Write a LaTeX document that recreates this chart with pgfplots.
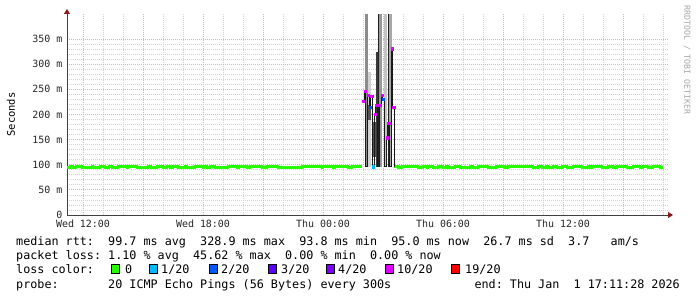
\documentclass[border=0pt]{standalone}
\usepackage{pgfplots}
\pgfplotsset{compat=1.18}
\usepackage{fontspec}
\usetikzlibrary{arrows.meta}
\newfontfamily\mono{DejaVu Sans Mono}
\definecolor{loss0}{HTML}{26FF00}
\definecolor{loss1}{HTML}{00B8FF}
\definecolor{loss2}{HTML}{0059FF}
\definecolor{loss3}{HTML}{5E00FF}
\definecolor{loss4}{HTML}{7E00FF}
\definecolor{loss10}{HTML}{DD00FF}
\definecolor{loss19}{HTML}{FF0000}
\definecolor{mgrid}{HTML}{F2A8A8}
\definecolor{sgrid}{HTML}{D2D2D2}
\definecolor{arrowred}{HTML}{8B1A1A}
\newcommand\tickfont{\mono\fontsize{10}{12}\selectfont}
\newcommand\legfont{\mono\fontsize{11.8}{14}\selectfont}
\begin{document}
\begin{tikzpicture}
\useasboundingbox (0,0) rectangle (697bp,297bp);
\begin{axis}[
  at={(67bp,82bp)}, anchor=south west,
  scale only axis, width=601bp, height=201bp,
  xmin=11.2, xmax=41.25, ymin=0, ymax=400,
  axis x line=bottom, axis y line=left,
  axis line style={black!75, line width=0.8bp},
  x axis line style={-{Triangle[length=5bp,width=6bp,color=arrowred]}, shorten >=-5bp},
  y axis line style={-{Triangle[length=5bp,width=6bp,color=arrowred]}, shorten >=-5bp},
  xtick={12,18,24,30,36},
  xticklabels={Wed 12:00, Wed 18:00, Thu 00:00, Thu 06:00, Thu 12:00},
  extra x ticks={15,21,27,33,39},
  extra x tick labels={},
  extra x tick style={grid=major},
  minor xtick={12,13,...,41},
  ytick={0,50,...,350},
  yticklabels={0, 50 m, 100 m, 150 m, 200 m, 250 m, 300 m, 350 m},
  minor y tick num=4,
  grid=both,
  major grid style={mgrid, dash pattern=on 1bp off 1bp, line width=0.75bp},
  minor grid style={sgrid, dash pattern=on 1bp off 1bp, line width=0.75bp},
  major tick length=0pt, minor tick length=0pt,
  tick label style={font=\tickfont, text=black!85},
  xticklabel style={yshift=-1bp},
  yticklabel style={xshift=-1bp},
  ylabel={Seconds},
  every axis y label/.style={at={(rel axis cs:0,0.5)}, xshift=-56bp, rotate=90, anchor=center, font=\mono\fontsize{10.5}{12}\selectfont},
]
% smoke bands
\addplot[fill=black!45, draw=none] coordinates {(26.075,96) (26.075,400) (26.225,400) (26.225,96)} -- cycle;
\addplot[fill=black!18, draw=none] coordinates {(26.265,96) (26.265,285) (26.4,285) (26.4,96)} -- cycle;
\addplot[fill=black!67, draw=none] coordinates {(26.265,189) (26.265,219) (26.4,219) (26.4,189)} -- cycle;
\addplot[fill=black!68, draw=none] coordinates {(26.515,115) (26.515,185) (26.635,185) (26.635,115)} -- cycle;
\addplot[fill=black!77, draw=none] coordinates {(26.635,96) (26.635,325) (26.735,325) (26.735,96)} -- cycle;
\addplot[fill=black!87, draw=none] coordinates {(26.735,96) (26.735,400) (26.785,400) (26.785,96)} -- cycle;
\addplot[fill=black!40, draw=none] coordinates {(26.8,96) (26.8,400) (26.925,400) (26.925,96)} -- cycle;
\addplot[fill=black!23, draw=none] coordinates {(27.05,96) (27.05,400) (27.2,400) (27.2,96)} -- cycle;
\addplot[fill=black!87, draw=none] coordinates {(27.24,96) (27.24,400) (27.29,400) (27.29,96)} -- cycle;
\addplot[fill=black!34, draw=none] coordinates {(27.3,96) (27.3,400) (27.45,400) (27.45,96)} -- cycle;
% median, no loss
\addplot[const plot, loss0, line width=2.4bp] coordinates {
(11.2,94.5) (11.35,96.5) (11.5,94.5) (11.65,96.5) (11.95,94.5) (12.45,96.5) (12.5,94.5)
(12.85,96.5) (13.1,94.5) (13.3,96.5) (13.45,94.5) (13.75,96.5) (14.2,94.5) (14.25,96.5)
(14.7,94.5) (15.25,96.5) (15.4,94.5) (15.7,96.5) (16.0,94.5) (16.2,96.5) (16.35,94.5)
(16.5,96.5) (16.75,94.5) (17.1,96.5) (17.2,94.5) (17.6,96.5) (18.0,94.5) (18.05,96.5)
(18.2,94.5) (18.35,96.5) (18.6,94.5) (19.25,96.5) (19.7,94.5) (19.8,96.5) (20.2,94.5)
(20.35,96.5) (20.95,94.5) (21.2,96.5) (21.75,94.5) (22.95,96.5) (23.95,94.5) (24.0,96.5)
(24.5,94.5) (24.6,96.5) (25.25,94.5) (25.45,96.5) (25.95,96.5)};
\addplot[const plot, loss0, line width=2.4bp] coordinates {
(27.55,96.5) (27.75,94.5) (27.95,96.5) (28.75,94.5) (29.0,96.5) (29.2,94.5) (29.25,96.5)
(29.5,94.5) (29.75,96.5) (30.0,94.5) (30.15,96.5) (30.25,94.5) (30.6,96.5) (30.85,94.5)
(31.35,96.5) (31.5,94.5) (31.75,96.5) (32.25,94.5) (32.65,96.5) (33.1,94.5) (33.25,96.5)
(34.5,94.5) (34.75,96.5) (34.95,94.5) (35.15,96.5) (35.25,94.5) (35.5,96.5) (35.7,94.5)
(35.95,96.5) (36.2,94.5) (36.5,96.5) (36.95,94.5) (37.25,96.5) (37.35,94.5) (37.45,96.5)
(37.95,94.5) (38.25,96.5) (38.5,94.5) (38.7,96.5) (39.2,94.5) (39.5,96.5) (39.85,94.5)
(40.0,96.5) (40.25,94.5) (40.5,96.5) (40.85,94.5) (41.0,94.5)};
% median during the spike
\addplot[const plot, black!90, line width=1bp] coordinates {
(25.965,227) (26.05,247) (26.135,96) (26.22,238) (26.305,215) (26.39,237) (26.475,96)
(26.56,200) (26.645,218) (26.73,96) (26.815,219) (26.9,238) (26.985,231) (27.07,96)
(27.155,154) (27.24,182) (27.325,96) (27.41,331) (27.495,215) (27.58,96)};
\addplot[only marks, mark=square*, mark size=1.1bp, loss10, mark options={draw=loss10}] coordinates {
(26.005,227) (26.09,247) (26.26,238) (26.43,237) (26.6,200) (26.685,218) (26.855,219)
(26.94,238) (27.195,154) (27.28,182) (27.45,331) (27.535,215)};
\addplot[only marks, mark=square*, mark size=1.1bp, loss2, mark options={draw=loss2}] coordinates {
(26.345,215) (27.025,231)};
\addplot[only marks, mark=square*, mark size=1.1bp, loss1, mark options={draw=loss1}] coordinates {
(26.515,96)};
\end{axis}
% watermark
\node[rotate=-90, anchor=west, inner sep=0pt, text=black!35, font=\mono\fontsize{8.3}{10}\selectfont] at (687bp,292bp) {RRDTOOL / TOBI OETIKER};
% legend text
\node[anchor=base west, inner sep=0pt, font=\legfont] at (16bp,51.5bp) {median~rtt:~~99.7~ms~avg~~328.9~ms~max~~93.8~ms~min~~95.0~ms~now~~26.7~ms~sd~~3.7~~~am/s};
\node[anchor=base west, inner sep=0pt, font=\legfont] at (16bp,37.5bp) {packet~loss:~1.10~\%~avg~~45.62~\%~max~~0.00~\%~min~~0.00~\%~now};
\node[anchor=base west, inner sep=0pt, font=\legfont] at (16bp,23.5bp) {loss~color:};
\foreach \xs/\xt/\c/\t in {111/125/loss0/0, 149/161/loss1/1\slash 20, 209/221/loss2/2\slash 20, 268/281/loss3/3\slash 20, 326/338/loss4/4\slash 20, 385/397/loss10/10\slash 20, 451/465/loss19/19\slash 20}{
  \filldraw[fill=\c, draw=black, line width=0.8bp] (\xs bp,23.5bp) rectangle ++(8bp,9bp);
  \node[anchor=base west, inner sep=0pt, font=\legfont] at (\xt bp,23.5bp) {\t};
}
\node[anchor=base west, inner sep=0pt, font=\legfont] at (16bp,8.5bp) {probe:~~~~~~~20~ICMP~Echo~Pings~(56~Bytes)~every~300s};
\node[anchor=base east, inner sep=0pt, font=\legfont] at (680bp,8.5bp) {end:~Thu~Jan~~1~17:11:28~2026};
\end{tikzpicture}
\end{document}
